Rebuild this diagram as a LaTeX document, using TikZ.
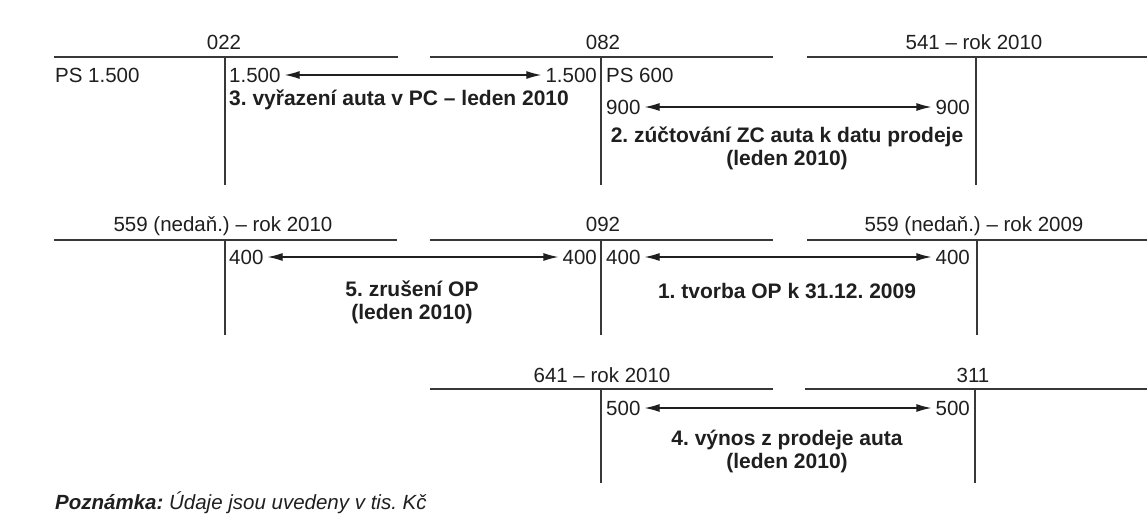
\documentclass[tikz,border=0pt]{standalone}
\usepackage{fontspec}
\setmainfont{Liberation Sans}
\usetikzlibrary{arrows.meta}
\frenchspacing
\definecolor{ink}{gray}{0.12}
\definecolor{rule}{gray}{0.22}
\tikzset{
  txt/.style={inner sep=2pt, text=ink, font=\frenchspacing\fontsize{20.5}{23}\selectfont},
  lbl/.style={txt, font=\frenchspacing\fontsize{21}{23}\selectfont\bfseries, align=center},
  ttl/.style={txt, anchor=base},
  acct/.style={draw=rule, line width=1.7pt},
  flow/.style={draw=ink, line width=1.2pt, {Latex[length=15pt,width=8pt]}-{Latex[length=15pt,width=8pt]}, shorten <=2pt, shorten >=2pt},
}
\begin{document}
\begin{tikzpicture}[x=1pt,y=-1pt]
\useasboundingbox[fill=white] (0,0) rectangle (1147,516);

% ---------- Row 1 ----------
\node[ttl] (t022) at (224,50) {022};
\node[ttl] (t082) at (603,50) {082};
\node[ttl] (t541) at (974,50) {541 – rok 2010};
\draw[acct] (54,57) -- (398,57);
\draw[acct] (430,57) -- (773,57);
\draw[acct] (807,57) -- (1147,57);
\draw[acct] (225,57) -- (225,185);
\draw[acct] (601,57) -- (601,185);
\draw[acct] (976,57) -- (976,185);

\node[txt, anchor=west] (ps1500) at (53,75) {PS 1.500};
\node[txt, anchor=west] (a1) at (227,75) {1.500};
\node[txt, anchor=east] (b1) at (599,75) {1.500};
\node[txt, anchor=west] (ps600) at (604,75) {PS 600};
\node[txt, anchor=west] (a2) at (604,107) {900};
\node[txt, anchor=east] (b2) at (972,107) {900};
\draw[flow] (a1.east) -- (b1.west);
\draw[flow] (a2.east) -- (b2.west);
\node[lbl, anchor=west] (l3) at (227,100) {3. vyřazení auta v PC – leden 2010};
\node[lbl] (l2) at (787,148) {2. zúčtování ZC auta k datu prodeje\\(leden 2010)};

% ---------- Row 2 ----------
\node[ttl] (t559a) at (223,231) {559 (nedaň.) – rok 2010};
\node[ttl] (t092) at (603,231) {092};
\node[ttl] (t559b) at (974,231) {559 (nedaň.) – rok 2009};
\draw[acct] (54,240) -- (397,240);
\draw[acct] (430,240) -- (773,240);
\draw[acct] (807,240) -- (1147,240);
\draw[acct] (225,240) -- (225,335);
\draw[acct] (601,240) -- (601,335);
\draw[acct] (977,240) -- (977,335);

\node[txt, anchor=west] (a5) at (227,257) {400};
\node[txt, anchor=east] (b5) at (599,257) {400};
\node[txt, anchor=west] (a4) at (604,257) {400};
\node[txt, anchor=east] (b4) at (972,257) {400};
\draw[flow] (a5.east) -- (b5.west);
\draw[flow] (a4.east) -- (b4.west);
\node[lbl] (l5) at (412,302) {5. zrušení OP\\(leden 2010)};
\node[lbl] (l1) at (787,291) {1. tvorba OP k 31.12. 2009};

% ---------- Row 3 ----------
\node[ttl] (t641) at (602,382) {641 – rok 2010};
\node[ttl] (t311) at (973,382) {311};
\draw[acct] (430,389) -- (773,389);
\draw[acct] (805,389) -- (1147,389);
\draw[acct] (601,389) -- (601,483);
\draw[acct] (975,389) -- (975,483);

\node[txt, anchor=west] (a6) at (604,408) {500};
\node[txt, anchor=east] (b6) at (972,408) {500};
\draw[flow] (a6.east) -- (b6.west);
\node[lbl] (l4) at (787,451) {4. výnos z prodeje auta\\(leden 2010)};

% ---------- Note ----------
\node[txt, anchor=west, font=\frenchspacing\fontsize{20.5}{22}\selectfont\itshape] (note) at (53,503) {\textbf{Poznámka:} Údaje jsou uvedeny v tis. Kč};
\end{tikzpicture}
\end{document}
